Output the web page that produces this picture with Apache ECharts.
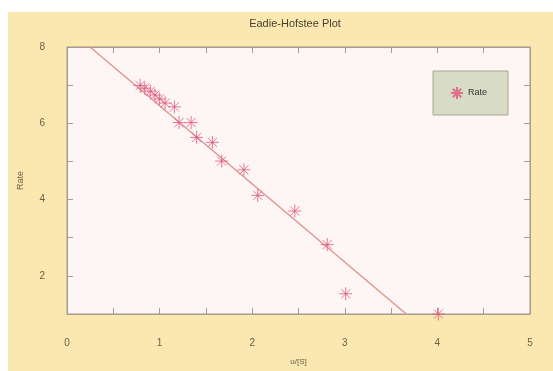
<!DOCTYPE html>
<html>
  <head>
    <meta charset="utf-8">
    <script src="https://cdn.jsdelivr.net/npm/echarts@6/dist/echarts.min.js"></script>
    <style>
      body { margin: 0; background: #ffffff; }
      #paper { position: absolute; left: 8px; top: 12px; width: 545px; height: 359px; background: #fbe8b0; }
      #main { position: absolute; left: 0; top: 0; width: 553px; height: 371px; }
    </style>
  </head>
  <body>
    <div id="paper"></div>
    <div id="main"></div>
    <script type="text/javascript">
      // measured points, v/[S] against rate
      var uOverS = [0.79, 0.84, 0.90, 0.95, 1.00, 1.06, 1.16, 1.21, 1.34, 1.40, 1.57, 1.67, 1.91, 2.06, 2.46, 2.81, 3.01, 4.01];
      var rate   = [6.99, 6.92, 6.84, 6.74, 6.64, 6.53, 6.43, 6.02, 6.02, 5.63, 5.50, 5.01, 4.78, 4.11, 3.70, 2.82, 1.53, 1.00];

      // fitted straight line (two end points)
      var fitX = [0, 4.2];
      var fitY = [8.51, -0.10];

      var xTicks = [0, 1, 2, 3, 4, 5];
      var yTicks = [2, 4, 6, 8];

      var points = uOverS.map(function (x, i) { return [x, rate[i]]; });
      var fit = fitX.map(function (x, i) { return [x, fitY[i]]; });

      var star = 'path://M0,-10L0,10M-10,0L10,0M-7,-7L7,7M-7,7L7,-7';
      var labelColor = '#6a6048';
      var frame = '#a89a90';

      var myChart = echarts.init(document.getElementById('main'));

      // ticks drawn into the plot box
      function ticks() {
        return { show: true, inside: true, length: 6, lineStyle: { color: frame } };
      }
      // onZero off, otherwise the right axis jumps to x = 0
      function frameLine() {
        return { show: true, onZero: false, lineStyle: { color: frame } };
      }

      myChart.setOption({
        animation: false,
        title: {
          text: 'Eadie-Hofstee Plot',
          left: 290,
          top: 13,
          textAlign: 'center',
          textStyle: { fontFamily: 'Liberation Sans', fontSize: 11, fontWeight: 'normal', color: '#4a4030' }
        },
        legend: {
          data: [{ name: 'Rate', icon: star }],
          left: 433,
          top: 71,
          padding: [15, 21, 15, 17],
          itemWidth: 12,
          itemHeight: 12,
          itemGap: 6,
          backgroundColor: '#d8dbc6',
          borderColor: '#a6a696',
          borderWidth: 1,
          textStyle: { fontFamily: 'Liberation Sans', fontSize: 9, color: '#333' }
        },
        grid: {
          left: 67, right: 23, top: 47, bottom: 52,
          show: true,
          backgroundColor: '#fdf6f4',
          borderColor: frame,
          borderWidth: 1
        },
        xAxis: [{
          type: 'value',
          min: 0, max: 5, interval: 0.5,
          name: 'u/[S]',
          nameLocation: 'middle',
          nameGap: 44,
          nameTextStyle: { fontFamily: 'Liberation Sans', fontSize: 8, color: labelColor },
          axisLine: frameLine(),
          axisTick: ticks(),
          splitLine: { show: false },
          axisLabel: {
            margin: 24,
            fontFamily: 'Liberation Sans', fontSize: 10, color: labelColor,
            formatter: function (v) { return xTicks.indexOf(v) >= 0 ? String(v) : ''; }
          }
        }, {
          type: 'value', position: 'top',
          min: 0, max: 5, interval: 0.5,
          axisLine: frameLine(),
          axisTick: ticks(),
          splitLine: { show: false },
          axisLabel: { show: false }
        }],
        yAxis: [{
          type: 'value',
          min: 1, max: 8, interval: 1,
          name: 'Rate',
          nameLocation: 'middle',
          nameGap: 42,
          nameTextStyle: { fontFamily: 'Liberation Sans', fontSize: 9, color: labelColor },
          axisLine: frameLine(),
          axisTick: ticks(),
          splitLine: { show: false },
          axisLabel: {
            margin: 22,
            fontFamily: 'Liberation Sans', fontSize: 10, color: labelColor,
            formatter: function (v) { return yTicks.indexOf(v) >= 0 ? String(v) : ''; }
          }
        }, {
          type: 'value', position: 'right',
          min: 1, max: 8, interval: 1,
          axisLine: frameLine(),
          axisTick: ticks(),
          splitLine: { show: false },
          axisLabel: { show: false }
        }],
        series: [{
          name: 'fit',
          type: 'line',
          data: fit,
          showSymbol: false,
          clip: true,
          lineStyle: { color: '#e0908c', width: 1.3 },
          z: 2
        }, {
          name: 'Rate',
          type: 'scatter',
          data: points,
          symbol: star,
          symbolSize: 13,
          clip: false,
          itemStyle: { color: 'transparent', borderColor: '#e0587a', borderWidth: 1 },
          z: 3
        }]
      });
    </script>
  </body>
</html>
